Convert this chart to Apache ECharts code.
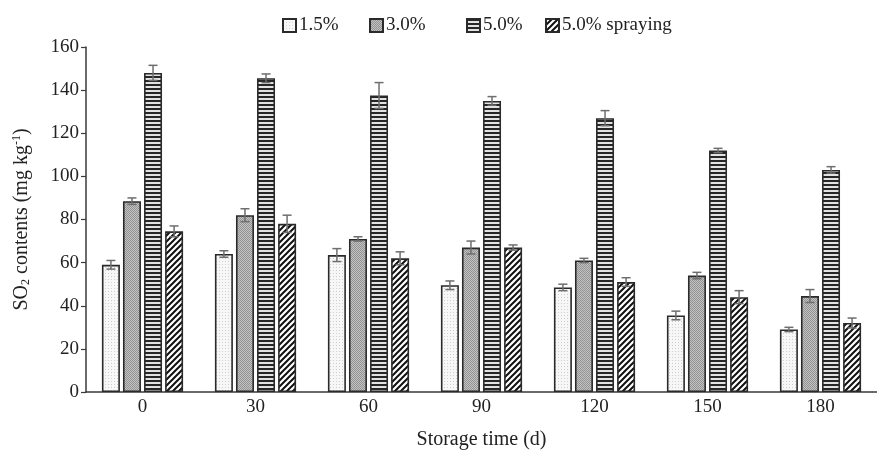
<!DOCTYPE html>
<html>
<head>
<meta charset="utf-8">
<script src="https://cdn.jsdelivr.net/npm/echarts@6/dist/echarts.min.js"></script>
<style>
  html, body { margin: 0; padding: 0; background: #fff; }
  #chart { width: 877px; height: 455px; }
</style>
</head>
<body>
<div id="chart"></div>
<script>
// Storage time categories (days)
const categories = ['0', '30', '60', '90', '120', '150', '180'];

// SO2 contents (mg kg-1) for each treatment, with standard deviations
const seriesNames = ['1.5%', '3.0%', '5.0%', '5.0% spraying'];
const v15 = [59, 64, 63.5, 49.5, 48.5, 35.5, 29];
const e15 = [2, 1.5, 3, 2, 1.5, 2, 1];
const v30 = [88.5, 82, 71, 67, 61, 54, 44.5];
const e30 = [1.5, 3, 1, 3, 1, 1.5, 3];
const v50 = [148, 145.5, 137.5, 135, 127, 112, 103];
const e50 = [3.5, 2, 6, 2, 3.5, 1, 1.5];
const v50s = [74.5, 78, 62, 67, 51, 44, 32];
const e50s = [2.5, 4, 3, 1.2, 2, 3, 2.3];

const values = [v15, v30, v50, v50s];
const errors = [e15, e30, e50, e50s];

const FONT = '"Liberation Serif", "Times New Roman", serif';
const TEXT = '#222';
const AXIS = '#3a3a3a';
const BAR_W = 18;
const GAP = 0.17;

// Small tiling canvases used as bar fills
function tile(w, h, draw) {
  const c = document.createElement('canvas');
  c.width = w; c.height = h;
  const g = c.getContext('2d');
  draw(g, w, h);
  return { image: c, repeat: 'repeat' };
}
const fillDots = tile(3, 3, (g) => {
  g.fillStyle = '#f7f7f7'; g.fillRect(0, 0, 3, 3);
  g.fillStyle = '#cfcfcf'; g.fillRect(0, 0, 1, 1);
});
const fillGrey = tile(2, 2, (g) => {
  g.fillStyle = '#c2c2c2'; g.fillRect(0, 0, 2, 2);
  g.fillStyle = '#939393'; g.fillRect(0, 0, 1, 1); g.fillRect(1, 1, 1, 1);
});
const fillStripes = tile(4, 4, (g) => {
  g.fillStyle = '#262626'; g.fillRect(0, 0, 4, 2);
  g.fillStyle = '#e2e2e2'; g.fillRect(0, 2, 4, 2);
});
const fillHatch = tile(6, 6, (g) => {
  g.fillStyle = '#ffffff'; g.fillRect(0, 0, 6, 6);
  g.strokeStyle = '#111'; g.lineWidth = 2;
  g.beginPath();
  g.moveTo(-1, 7); g.lineTo(7, -1);
  g.moveTo(-4, 4); g.lineTo(4, -4);
  g.moveTo(2, 10); g.lineTo(10, 2);
  g.stroke();
});
const fills = [fillDots, fillGrey, fillStripes, fillHatch];

const barSeries = seriesNames.map((name, i) => ({
  name: name,
  type: 'bar',
  barWidth: BAR_W,
  barGap: (GAP * 100) + '%',
  data: values[i],
  itemStyle: { color: fills[i], borderColor: '#2a2a2a', borderWidth: 1.6 },
  emphasis: { disabled: true },
  z: 2
}));

// Error bars drawn at each bar's offset within its category
const errSeries = seriesNames.map((name, i) => ({
  type: 'custom',
  name: name + ' sd',
  data: values[i].map((v, k) => [k, v, errors[i][k]]),
  z: 5,
  silent: true,
  renderItem: function (params, api) {
    const k = api.value(0), v = api.value(1), e = api.value(2);
    const hi = api.coord([k, v + e]);
    const lo = api.coord([k, v - e]);
    const off = (i - 1.5) * (BAR_W + BAR_W * GAP);
    const x = hi[0] + off;
    const cap = 4.5;
    const st = { stroke: '#6e6e6e', lineWidth: 1.5 };
    return {
      type: 'group',
      children: [
        { type: 'line', shape: { x1: x, y1: hi[1], x2: x, y2: lo[1] }, style: st },
        { type: 'line', shape: { x1: x - cap, y1: hi[1], x2: x + cap, y2: hi[1] }, style: st },
        { type: 'line', shape: { x1: x - cap, y1: lo[1], x2: x + cap, y2: lo[1] }, style: st }
      ]
    };
  }
}));

const legendLeft = [277, 364, 461, 540];
const legends = seriesNames.map((name, i) => ({
  data: [name],
  left: legendLeft[i],
  top: 11,
  icon: 'rect',
  itemWidth: 13,
  itemHeight: 13,
  itemGap: 0,
  selectedMode: false,
  textStyle: { fontFamily: FONT, fontSize: 19, color: TEXT, padding: [0, 0, 0, -2] }
}));

const chart = echarts.init(document.getElementById('chart'), null, { renderer: 'canvas' });
chart.setOption({
  animation: false,
  backgroundColor: '#ffffff',
  legend: legends,
  grid: { left: 86, top: 47, width: 800, bottom: 58 },
  xAxis: {
    type: 'category',
    data: categories,
    name: 'Storage time (d)',
    nameLocation: 'middle',
    nameGap: 38,
    nameTextStyle: { fontFamily: FONT, fontSize: 20, color: TEXT },
    axisLine: { lineStyle: { color: AXIS, width: 1.5 } },
    axisTick: { inside: true, length: 5, lineStyle: { color: AXIS, width: 1.2 } },
    axisLabel: { fontFamily: FONT, fontSize: 19, color: TEXT, margin: 6 }
  },
  yAxis: {
    type: 'value',
    min: 0,
    max: 160,
    interval: 20,
    name: 'SO{sub|2} contents (mg kg{sup|-1})',
    nameLocation: 'middle',
    nameRotate: 90,
    nameGap: 54,
    nameTextStyle: {
      fontFamily: FONT, fontSize: 20, color: TEXT,
      rich: {
        sub: { fontFamily: FONT, fontSize: 12, color: TEXT, padding: [9, 0, 0, 0] },
        sup: { fontFamily: FONT, fontSize: 12, color: TEXT, padding: [0, 0, 9, 0] }
      }
    },
    splitLine: { show: false },
    axisLine: { show: true, lineStyle: { color: AXIS, width: 1.5 } },
    axisTick: { show: true, length: 5, lineStyle: { color: AXIS, width: 1.2 } },
    axisLabel: { fontFamily: FONT, fontSize: 19, color: TEXT, margin: 7 }
  },
  series: barSeries.concat(errSeries)
});
</script>
</body>
</html>
